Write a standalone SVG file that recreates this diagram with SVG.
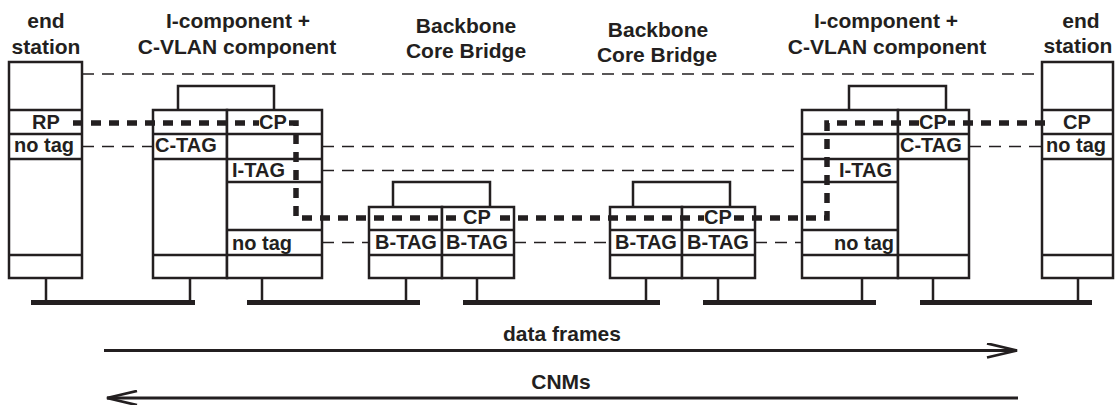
<svg xmlns="http://www.w3.org/2000/svg" width="1115" height="405" viewBox="0 0 1115 405">
<defs>
<style>
.box{fill:#fff;stroke:#231f20;stroke-width:2.5}
.ln{fill:none;stroke:#231f20;stroke-width:2.5}
.bus{fill:none;stroke:#231f20;stroke-width:5}
.thin{fill:none;stroke:#231f20;stroke-width:1.3;stroke-dasharray:12 8}
.thick{fill:none;stroke:#231f20;stroke-width:5.5;stroke-dasharray:10 8}
.arr{fill:none;stroke:#231f20;stroke-width:2.8}
text{font-family:"Liberation Sans",Arial,sans-serif;font-weight:bold;fill:#231f20}
.h{font-size:21px;text-anchor:middle}
.c{font-size:20px}
.m{text-anchor:middle}
.e{text-anchor:end}
.bg{fill:#fff}
</style>
<marker id="ah" viewBox="0 0 32 16" refX="31" refY="8" markerWidth="32" markerHeight="16" markerUnits="userSpaceOnUse" orient="auto">
<path d="M1,1 L31,8 L1,15" fill="none" stroke="#231f20" stroke-width="2.8"/>
</marker>
</defs>

<g id="headers">
<text class="h" x="46" y="28">end</text>
<text class="h" x="46" y="54">station</text>
<text class="h" x="238" y="28">I-component +</text>
<text class="h" x="237" y="54">C-VLAN component</text>
<text class="h" x="466" y="33">Backbone</text>
<text class="h" x="466" y="58">Core Bridge</text>
<text class="h" x="658" y="37">Backbone</text>
<text class="h" x="657" y="62">Core Bridge</text>
<text class="h" x="886" y="28">I-component +</text>
<text class="h" x="887" y="54">C-VLAN component</text>
<text class="h" x="1081" y="28">end</text>
<text class="h" x="1078" y="53">station</text>
</g>

<g id="buses">
<path class="bus" d="M31,302.5H195M247,302.5H420M463,302.5H660M703,302.5H876M920,302.5H1092"/>
<path class="ln" d="M46,278V302M190,278V302M262,278V302M406,278V302M477,278V302M646,278V302M718,278V302M862,278V302M933,278V302M1078,278V302"/>
</g>

<g id="end-station-left">
<rect class="box" x="9" y="62" width="73" height="216"/>
<path class="ln" d="M9,110H82M9,134H82M9,159H82M9,255H82"/>
<text class="c m" x="46" y="129">RP</text>
<text class="c" x="14" y="152">no tag</text>
</g>

<g id="icomp-left">
<path class="ln" d="M178,110V86H274V110"/>
<rect class="box" x="153" y="110" width="74" height="168"/>
<rect class="box" x="227" y="110" width="95" height="168"/>
<path class="ln" d="M153,134H322M153,159H322M227,182H322M227,230H322M153,255H322"/>
<text class="c" x="155" y="152">C-TAG</text>
<text class="c" x="232" y="177">I-TAG</text>
<text class="c" x="232" y="250">no tag</text>
</g>

<g id="bridge-1">
<path class="ln" d="M393,207V182H490V207"/>
<rect class="box" x="369" y="207" width="73" height="71"/>
<rect class="box" x="442" y="207" width="72" height="71"/>
<path class="ln" d="M369,230H514M369,255H514"/>
<text class="c m" x="406" y="249">B-TAG</text>
<text class="c m" x="477" y="249">B-TAG</text>
</g>

<g id="bridge-2">
<path class="ln" d="M633,207V182H730V207"/>
<rect class="box" x="610" y="207" width="72" height="71"/>
<rect class="box" x="682" y="207" width="73" height="71"/>
<path class="ln" d="M610,230H755M610,255H755"/>
<text class="c m" x="646" y="249">B-TAG</text>
<text class="c m" x="718" y="249">B-TAG</text>
</g>

<g id="icomp-right">
<path class="ln" d="M849,110V86H946V110"/>
<rect class="box" x="802" y="110" width="96" height="168"/>
<rect class="box" x="898" y="110" width="71" height="168"/>
<path class="ln" d="M802,134H969M802,159H969M802,182H898M802,230H898M802,255H969"/>
<text class="c" x="900" y="152">C-TAG</text>
<text class="c e" x="892" y="177">I-TAG</text>
<text class="c e" x="894" y="250">no tag</text>
</g>

<g id="end-station-right">
<rect class="box" x="1042" y="62" width="71" height="216"/>
<path class="ln" d="M1042,110H1113M1042,134H1113M1042,159H1113M1042,255H1113"/>
<text class="c m" x="1077" y="129">CP</text>
<text class="c" x="1046" y="152">no tag</text>
</g>

<g id="connectors">
<path class="thin" d="M82,74H1042"/>
<path class="thin" d="M82,146.5H153M322,146.5H802M969,146.5H1042"/>
<path class="thin" d="M322,170.5H802"/>
<path class="thin" d="M322,242.5H369M514,242.5H610M755,242.5H802"/>
<path class="thick" d="M73,123H296V218H827V123H1047"/>
<rect class="bg" x="259" y="114" width="28" height="18"/>
<text class="c m" x="273" y="129">CP</text>
<rect class="bg" x="463" y="209" width="29" height="18"/>
<text class="c m" x="477" y="224">CP</text>
<rect class="bg" x="704" y="209" width="28" height="18"/>
<text class="c m" x="718" y="224">CP</text>
<rect class="bg" x="919" y="114" width="29" height="18"/>
<text class="c m" x="933" y="129">CP</text>
<path class="arr" d="M104,350.5H1017" marker-end="url(#ah)"/>
<text class="h" x="562" y="341">data frames</text>
<path class="arr" d="M1018,398H107" marker-end="url(#ah)"/>
<text class="h" x="561" y="389">CNMs</text>
</g>
</svg>
